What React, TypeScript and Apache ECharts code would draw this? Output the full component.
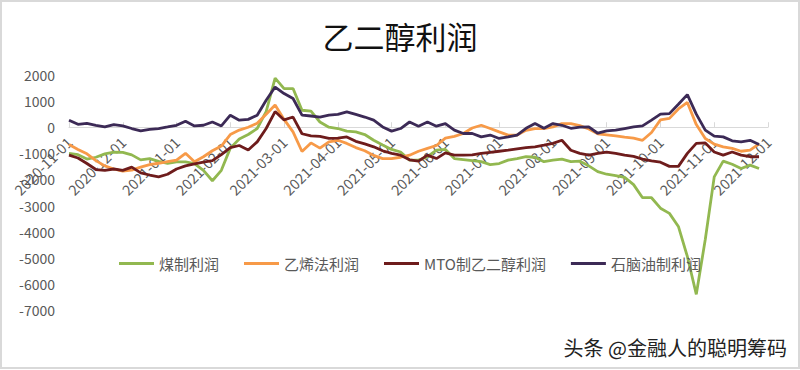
import React, { useEffect, useRef } from "react";
import * as echarts from "echarts";

const monthTicks = [
  "2020-11", "2020-12", "2021-01", "2021-02", "2021-03", "2021-04", "2021-05",
  "2021-06", "2021-07", "2021-08", "2021-09", "2021-10", "2021-11", "2021-12",
];
const daysInMonth = ["01", "06", "11", "16", "21", "26"];

const seriesNames = ["煤制利润", "乙烯法利润", "MTO制乙二醇利润", "石脑油制利润"];
const seriesColors = ["#92B850", "#F79A48", "#6E1C1C", "#3C2A56"];

const yMin = -7000;
const yMax = 2000;
const yStep = 1000;

const coalProfit = [
  -1000, -1050, -1220, -1150, -1020, -950, -960, -1060, -1250, -1200,
  -1310, -1380, -1330, -1330, -1390, -1650, -2050, -1650, -800, -450,
  -280, -50, 600, 1880, 1480, 1480, 650, 620, 200, 0,
  -50, -150, -180, -280, -500, -680, -850, -950, -1260, -1260,
  -1130, -880, -850, -1200, -1240, -1280, -1320, -1430, -1390, -1260,
  -1200, -1130, -1150, -1320, -1260, -1220, -1320, -1300, -1480, -1700,
  -1800, -1850, -1920, -2200, -2700, -2700, -3100, -3300, -3800, -4950,
  -6400, -4300, -1900, -1300, -1420, -1580, -1450, -1580,
];
const ethyleneProfit = [
  -660, -850, -1020, -1280, -1480, -1600, -1680, -1640, -1530, -1430,
  -1380, -1320, -1260, -1000, -1320, -1130, -900, -720, -280, -110,
  0, 150, 500, 850, 300, -180, -930, -600, -800, -560,
  -500, -620, -780, -900, -1080, -1200, -1200, -1150, -1070, -920,
  -810, -700, -420, -350, -240, -30, 75, -50, -180, -300,
  -300, -120, -50, -50, 10, 140, 140, 60, -70, -250,
  -290, -330, -380, -420, -500, -200, 280, 340, 700, 950,
  100, -430, -650, -750, -810, -920, -880, -640,
];
const mtoProfit = [
  -1070, -1180, -1390, -1620, -1650, -1600, -1650, -1530, -1750, -1830,
  -1900, -1800, -1600, -1480, -1400, -1340, -1280, -1050, -780, -700,
  -870, -560, -50, 600, 280, 390, -250, -330, -350, -430,
  -420, -370, -540, -640, -750, -900, -1000, -1070, -1250, -1300,
  -1070, -1200, -980, -1070, -1070, -1060, -1000, -960, -920, -880,
  -830, -780, -750, -690, -620, -500, -880, -1000, -1070, -1000,
  -950, -1000, -1070, -1120, -1220, -1290, -1340, -1500, -1500, -1000,
  -620, -600, -950, -1070, -950, -1070, -1130, -1130,
];
const naphthaProfit = [
  270, 110, 150, 75, 10, 100, 50, -50, -140, -80,
  -50, 10, 75, 230, 50, 75, 200, 50, 460, 270,
  300, 460, 1030, 1540, 1290, 1100, 460, 430, 390, 460,
  490, 590, 490, 390, 270, 10, -150, -50, 200, 40,
  200, 40, 140, -110, -240, -240, -370, -300, -430, -370,
  -300, -40, 140, -40, 140, 75, -40, 0, 10, -230,
  -140, -110, -50, 10, 50, 270, 500, 520, 880, 1250,
  500, -110, -340, -370, -520, -560, -500, -660,
];

const categories: string[] = [];
monthTicks.forEach((m, mi) => {
  if (mi === monthTicks.length - 1) {
    categories.push(`${m}-01`);
  } else {
    daysInMonth.forEach((d) => categories.push(`${m}-${d}`));
  }
});

const allData = [coalProfit, ethyleneProfit, mtoProfit, naphthaProfit];
const isMonthStart = (i: number) => i % daysInMonth.length === 0;

const GRID_TOP = 75;
const GRID_BOTTOM = 60;
const CHART_H = 370;

export default function App() {
  const ref = useRef<HTMLDivElement>(null);
  useEffect(() => {
    if (!ref.current) return;
    const chart = echarts.init(ref.current, undefined, { renderer: "svg" });
    const font = "'Noto Sans CJK SC', 'Noto Sans', sans-serif";
    const plotH = CHART_H - GRID_TOP - GRID_BOTTOM;
    // distance from the bottom of the grid up to the zero value line
    const zeroLift = (plotH * (0 - yMin)) / (yMax - yMin);
    chart.setOption({
      animation: false,
      backgroundColor: "#ffffff",
      textStyle: { fontFamily: font },
      title: {
        text: "乙二醇利润",
        left: "center",
        top: 15,
        textStyle: { fontSize: 31, fontWeight: "normal", color: "#111111", fontFamily: font },
      },
      legend: {
        data: seriesNames,
        left: 114,
        top: 251,
        icon: "rect",
        itemWidth: 35,
        itemHeight: 3,
        itemGap: 25,
        textStyle: { fontSize: 15, color: "#595959", fontFamily: font },
      },
      grid: { left: 69, right: 32, top: GRID_TOP, bottom: GRID_BOTTOM },
      xAxis: {
        type: "category",
        data: categories,
        boundaryGap: false,
        position: "bottom",
        offset: -zeroLift,
        axisLine: { onZero: false, lineStyle: { color: "#d9d9d9", width: 1 } },
        axisTick: {
          inside: true,
          length: 5,
          interval: (i: number) => isMonthStart(i),
          lineStyle: { color: "#d9d9d9" },
        },
        axisLabel: {
          interval: (i: number) => isMonthStart(i),
          rotate: 45,
          color: "#595959",
          fontSize: 14.5,
          margin: 12,
          fontFamily: font,
        },
      },
      yAxis: {
        type: "value",
        min: yMin,
        max: yMax,
        interval: yStep,
        axisLine: { show: false },
        axisTick: { show: false },
        splitLine: { show: false },
        axisLabel: {
          color: "#595959",
          fontSize: 14,
          margin: 14,
          fontFamily: font,
          formatter: (v: number) => String(v),
        },
      },
      series: seriesNames.map((name, k) => ({
        name,
        type: "line",
        data: allData[k],
        showSymbol: false,
        symbol: "none",
        color: seriesColors[k],
        lineStyle: { width: 2.8, color: seriesColors[k] },
      })),
      graphic: [
        {
          type: "rect",
          shape: { x: 1, y: 1, width: 798, height: 367 },
          style: { fill: "none", stroke: "#d9d9d9", lineWidth: 2 },
          silent: true,
        },
        {
          type: "text",
          left: 562,
          top: 336,
          z: 100,
          style: {
            text: "头条 @金融人的聪明筹码",
            fontSize: 20,
            fill: "#222222",
            stroke: "#ffffff",
            lineWidth: 3,
            fontFamily: font,
          },
        },
      ],
    });
    return () => chart.dispose();
  }, []);
  return (
    <div
      ref={ref}
      style={{ position: "absolute", left: 0, top: 0, width: 800, height: 370 }}
    />
  );
}
